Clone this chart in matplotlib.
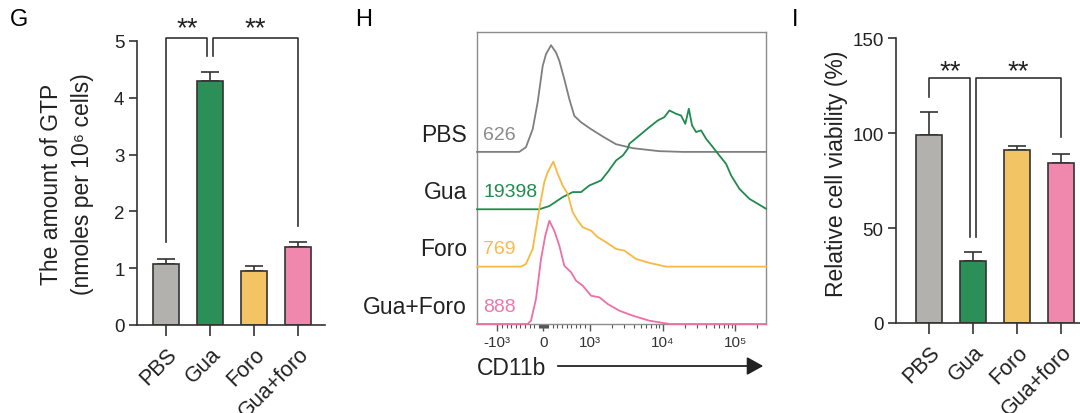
import numpy as np
import matplotlib
matplotlib.use('Agg')
import matplotlib.pyplot as plt
from matplotlib.patches import FancyArrowPatch
from matplotlib.ticker import FixedLocator, NullFormatter

plt.rcParams['font.family'] = ['Liberation Sans', 'DejaVu Sans']

# ---- data ----
groups = ['PBS', 'Gua', 'Foro', 'Gua+foro']
bar_colors = ['#b2b1ae', '#2a9058', '#f2c464', '#f088ae']

gtp_mean = [1.08, 4.29, 0.95, 1.38]
gtp_err = [0.08, 0.16, 0.09, 0.08]

viab_mean = [98.8, 32.8, 91.0, 84.0]
viab_err = [12.0, 4.4, 2.4, 5.2]

# flow cytometry histograms: CD11b intensity vs % of mode
samples = ['PBS', 'Gua', 'Foro', 'Gua+Foro']
mfi = ['626', '19398', '769', '888']
line_colors = ['#7f7f7f', '#1f8b4d', '#f8b940', '#ef6fa4']
text_colors = ['#8a8a8a', '#1f8b4d', '#f8bb4a', '#ef78aa']

pbs_x = [-1900, -525, -380, -234, -126, -17, 54, 163, 271, 343, 451, 560, 668,
         813, 1045, 1513, 2300, 3900, 8950, 18900, 262144]
pbs_y = [0, 0, 4.4, 21.3, 46.6, 80.6, 91.6, 100, 93.2, 85.3, 68.1, 49.4, 33.7,
         27.8, 21.3, 14.4, 7.2, 3.5, 0.7, 0, 0]

gua_x = [-1900, -91, 126, 416, 633, 813, 993, 1433, 1770, 2300, 2850, 3330,
         3500, 4810, 6590, 8590, 10600, 12400, 15300, 17900, 20500, 22900,
         25400, 28800, 33700, 39500, 48800, 60100, 74300, 87100, 113000,
         155000, 213000, 262144]
gua_y = [0, 0, 3.0, 11.4, 16.1, 16.1, 22.3, 27.0, 34.9, 45.7, 50.4, 56.7,
         61.4, 69.2, 77.0, 83.2, 86.4, 92.6, 89.5, 87.9, 80.1, 94.2,
         78.5, 72.4, 73.9, 66.1, 58.3, 50.4, 42.6, 31.7, 19.2,
         9.8, 4.2, 0.5]

foro_x = [-1900, -488, -380, -234, -91, 17, 91, 213, 308, 416, 525, 633, 742,
          850, 1045, 1290, 1680, 2300, 2990, 4330, 6590, 11200, 262144]
foro_y = [0, 0, 2.5, 16.6, 54.1, 79.1, 88.5, 98.4, 86.9, 75.9, 68.1, 51.0, 43.1,
          36.9, 33.7, 27.6, 22.9, 16.6, 15.0, 7.2, 3.5, 0, 0]

combo_x = [-1900, -343, -271, -163, -54, 39, 126, 234, 343, 451, 597, 705, 850,
           1045, 1360, 1770, 2550, 3900, 6590, 12400, 262144]
combo_y = [0, 0, 3.1, 23.4, 60.9, 82.8, 96.8, 87.4, 73.4, 54.6, 48.5, 40.6, 35.9,
           26.5, 25.0, 18.7, 12.5, 7.8, 3.1, 0, 0]

hist_x = [pbs_x, gua_x, foro_x, combo_x]
hist_y = [pbs_y, gua_y, foro_y, combo_y]

# ---- style ----
dark = '#333333'
W, H = 1080, 414


def fx(px):
    return px / W


def fy(py):
    return 1 - py / H


def style_bar_axes(ax):
    for s in ['top', 'right']:
        ax.spines[s].set_visible(False)
    for s in ['left', 'bottom']:
        ax.spines[s].set_color(dark)
        ax.spines[s].set_linewidth(1.2)
    ax.tick_params(axis='both', colors=dark, width=1.2, labelcolor='#222222')
    ax.tick_params(axis='x', length=8, pad=5, labelsize=15.5)
    ax.tick_params(axis='y', length=6, pad=3, labelsize=13.5)


def bars(ax, means, errs):
    x = np.arange(len(means))
    ax.bar(x, means, width=0.6, color=bar_colors, edgecolor=dark, linewidth=1.2, zorder=2)
    ax.errorbar(x, means, yerr=[np.zeros(len(errs)), errs], fmt='none',
                ecolor=dark, elinewidth=1.2, capsize=6.5, capthick=1.2, zorder=1)
    ax.set_xticks(x)
    ax.set_xticklabels(groups, rotation=45, ha='right', va='top',
                       rotation_mode='anchor')


def bracket(ax, x1, x2, top, y1, y2):
    ax.plot([x1, x1, x2, x2], [y1, top, top, y2], color=dark, lw=1.2,
            clip_on=False, zorder=3)


fig = plt.figure(figsize=(10.8, 4.14), dpi=100)

# ---- G: GTP amount ----
axg = fig.add_axes([fx(137), fy(326), fx(325 - 137), (326 - 42) / H])
bars(axg, gtp_mean, gtp_err)
axg.set_xlim(-0.66, 3.61)
axg.set_ylim(0, 5)
axg.set_yticks([0, 1, 2, 3, 4, 5])
style_bar_axes(axg)
top_g = [m + e for m, e in zip(gtp_mean, gtp_err)]
bracket(axg, 0, 0.93, 5.05, top_g[0] + 0.3, top_g[1] + 0.29)
bracket(axg, 1.07, 3, 5.05, top_g[1] + 0.29, top_g[3] + 0.28)
axg.text(0.48, 5.0, '**', ha='center', va='bottom', fontsize=20, color='#222222')
axg.text(2.02, 5.0, '**', ha='center', va='bottom', fontsize=20, color='#222222')
fig.text(fx(67), fy(184), 'The amount of GTP\n(nmoles per 10\u2076 cells)',
         rotation=90, ha='center', va='center', fontsize=16.5, linespacing=1.45,
         color='#222222')

# ---- H: CD11b histograms ----
axh = fig.add_axes([fx(477), fy(325), fx(289), (325 - 33) / H])
axh.set_xscale('symlog', linthresh=1000, linscale=0.57)
axh.set_xlim(-1900, 262144)
row_gap = 1.0
peak = 1.86
n = len(samples)
axh.set_ylim(0, 5.09)
for i in range(n):
    base = (n - 1 - i) * row_gap
    yy = base + np.array(hist_y[i]) / 100 * peak
    axh.plot(hist_x[i], yy, color=line_colors[i], lw=1.3, clip_on=False, zorder=3)
    axh.text(-0.035, base + 0.31, samples[i], transform=axh.get_yaxis_transform(),
             ha='right', va='center', fontsize=16.5, color='#222222')
    axh.text(0.022, base + 0.31, mfi[i], transform=axh.get_yaxis_transform(),
             ha='left', va='center', fontsize=14, color=text_colors[i])
for s in axh.spines.values():
    s.set_color('#8c8c8c')
    s.set_linewidth(1.0)
axh.set_yticks([])
axh.xaxis.set_major_locator(FixedLocator([-1000, 0, 1000, 1e4, 1e5]))
axh.set_xticklabels(['-10\u00b3', '0', '10\u00b3', '10\u2074', '10\u2075'])
minors = [-k * 100 for k in range(1, 10)] + [k * 100 for k in range(1, 10)]
minors += [-k * 20 for k in range(1, 5)] + [k * 20 for k in range(1, 5)]
minors += [k * 10 ** p for p in (3, 4, 5) for k in range(2, 10) if k * 10 ** p < 262144]
axh.xaxis.set_minor_locator(FixedLocator(minors))
axh.xaxis.set_minor_formatter(NullFormatter())
axh.tick_params(axis='x', which='major', length=5, width=1.0, colors='#555555',
                labelsize=11, labelcolor='#333333', pad=3)
axh.tick_params(axis='x', which='minor', length=3, width=0.8, colors='#555555')

fig.text(fx(477), fy(369), 'CD11b', ha='left', va='center', fontsize=16.5, color='#222222')
fig.patches.append(FancyArrowPatch(
    (fx(555), fy(367)), (fx(766), fy(367)), transform=fig.transFigure,
    arrowstyle='-|>,head_length=0.45,head_width=0.25', mutation_scale=22,
    color='#222222', lw=1.3))

# ---- I: viability ----
axi = fig.add_axes([fx(896), fy(324), fx(1080 - 896), (324 - 39) / H])
bars(axi, viab_mean, viab_err)
axi.set_xlim(-0.75, 3.43)
axi.set_ylim(0, 150)
axi.set_yticks([0, 50, 100, 150])
style_bar_axes(axi)
top_i = [m + e for m, e in zip(viab_mean, viab_err)]
bracket(axi, 0, 0.93, 129, top_i[0] + 8, top_i[1] + 8)
bracket(axi, 1.07, 3, 129, top_i[1] + 8, top_i[3] + 8.8)
axi.text(0.48, 125.5, '**', ha='center', va='bottom', fontsize=20, color='#222222')
axi.text(2.02, 125.5, '**', ha='center', va='bottom', fontsize=20, color='#222222')
fig.text(fx(836), fy(174), 'Relative cell viability (%)', rotation=90,
         ha='center', va='center', fontsize=16.5, color='#222222')

# panel letters
fig.text(fx(10), fy(20), 'G', fontsize=17, va='center', ha='left')
fig.text(fx(355), fy(20), 'H', fontsize=17, va='center', ha='left')
fig.text(fx(792), fy(20), 'I', fontsize=17, va='center', ha='left')

fig.savefig('out.png', dpi=100, facecolor='white')
